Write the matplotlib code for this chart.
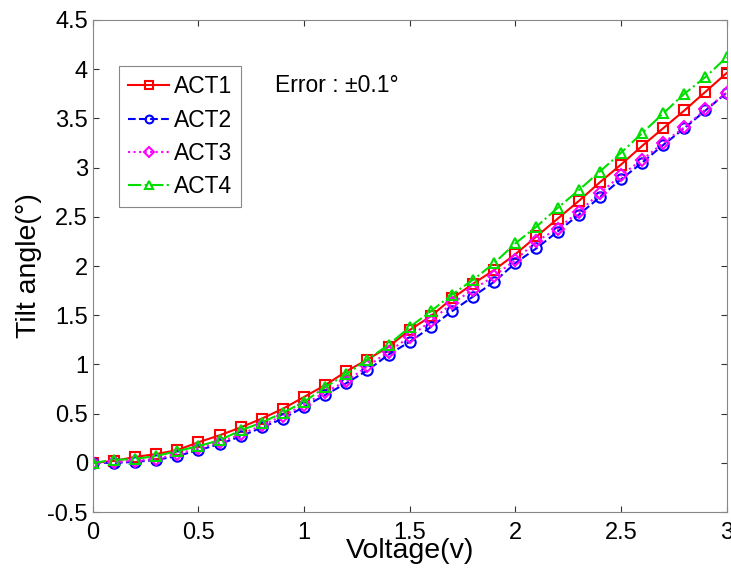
import matplotlib.pyplot as plt

plt.rcParams['font.family'] = ['Liberation Sans', 'DejaVu Sans']

voltage = [i / 10 for i in range(31)]
act1 = [0, 0.02, 0.06, 0.09, 0.13, 0.21, 0.28, 0.36, 0.45, 0.55, 0.67, 0.79, 0.93, 1.05, 1.18, 1.35,
        1.49, 1.67, 1.82, 1.96, 2.12, 2.30, 2.48, 2.66, 2.85, 3.03, 3.22, 3.40, 3.58, 3.77, 3.96]
act2 = [0, 0, 0.01, 0.03, 0.07, 0.13, 0.19, 0.27, 0.36, 0.45, 0.57, 0.69, 0.81, 0.94, 1.10, 1.23,
        1.38, 1.54, 1.69, 1.84, 2.03, 2.18, 2.35, 2.52, 2.70, 2.88, 3.05, 3.23, 3.40, 3.58, 3.76]
act3 = [0, 0.01, 0.02, 0.04, 0.09, 0.15, 0.21, 0.29, 0.38, 0.48, 0.59, 0.72, 0.83, 0.98, 1.13, 1.28,
        1.44, 1.62, 1.76, 1.90, 2.06, 2.25, 2.38, 2.55, 2.74, 2.92, 3.08, 3.25, 3.41, 3.59, 3.76]
act4 = [0, 0.03, 0.04, 0.07, 0.12, 0.17, 0.23, 0.33, 0.41, 0.51, 0.62, 0.77, 0.90, 1.05, 1.20, 1.38,
        1.54, 1.71, 1.86, 2.03, 2.23, 2.40, 2.59, 2.77, 2.96, 3.15, 3.35, 3.55, 3.75, 3.92, 4.12]
names = ['ACT1', 'ACT2', 'ACT3', 'ACT4']

fig = plt.figure(figsize=(7.31, 5.69), dpi=100)
ax = fig.add_axes([0.127, 0.1, 0.867, 0.865])

styles = [('#ff0000', '-', 's'), ('#0000ff', '--', 'o'), ('#ff00ff', ':', 'D'), ('#00dd00', '-.', '^')]
for ys, name, (c, ls, m) in zip([act1, act2, act3, act4], names, styles):
    ms = 6.5 if m == 'D' else 7.5
    ax.plot(voltage, ys, color=c, linestyle=ls, marker=m, markersize=ms, markerfacecolor='none',
            markeredgewidth=1.5, linewidth=1.5, label=name)

ax.set_xlim(0, 3)
ax.set_ylim(-0.5, 4.5)
ax.set_xticks([0, 0.5, 1, 1.5, 2, 2.5, 3])
ax.set_xticklabels(['0', '0.5', '1', '1.5', '2', '2.5', '3'])
ax.set_yticks([-0.5, 0, 0.5, 1, 1.5, 2, 2.5, 3, 3.5, 4, 4.5])
ax.set_yticklabels(['-0.5', '0', '0.5', '1', '1.5', '2', '2.5', '3', '3.5', '4', '4.5'])
ax.tick_params(direction='in', top=True, right=True, labelsize=17, length=4, color='#333333')
ax.tick_params(axis='x', pad=7)
for s in ax.spines.values():
    s.set_color('#888888')

ax.set_xlabel('Voltage(v)', fontsize=20.5, labelpad=-4)
ax.set_ylabel('Tilt angle(°)', fontsize=20.5, labelpad=4)

leg = ax.legend(loc='upper left', bbox_to_anchor=(0.041, 0.906), borderaxespad=0, fontsize=16.5,
                fancybox=False, framealpha=1, edgecolor='#888888', handlelength=1.8,
                handletextpad=0.2, borderpad=0.4, labelspacing=0.45, markerscale=0.75)
leg.get_frame().set_linewidth(0.8)

ax.text(0.287, 0.866, 'Error : ±0.1°', transform=ax.transAxes, fontsize=16.5, va='center')

fig.savefig('out.png', dpi=100)
